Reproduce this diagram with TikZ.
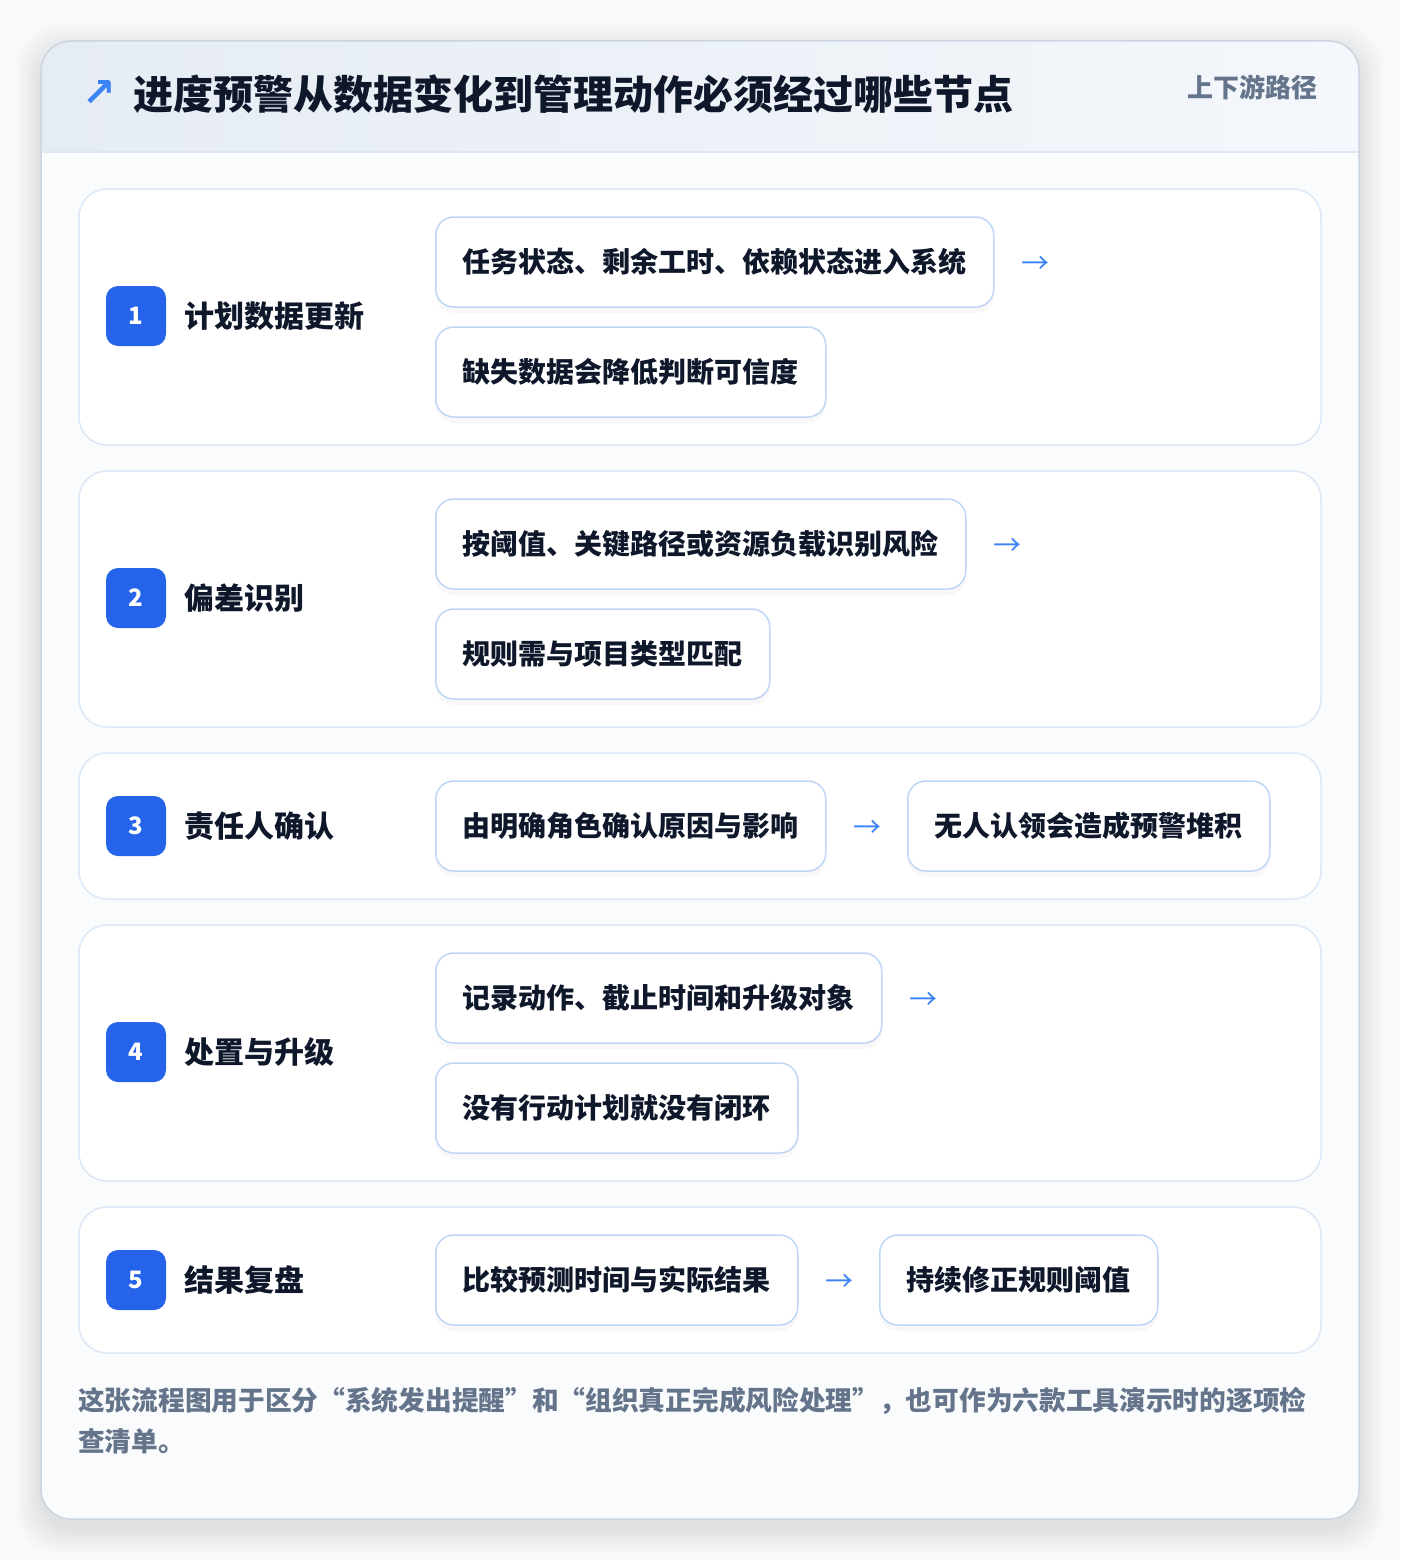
\documentclass[tikz,border=0pt]{standalone}
\usepackage{fontspec}
\setmainfont{Noto Sans CJK SC}
\newfontfamily\symfont{DejaVu Sans}
\usetikzlibrary{positioning,shadows}
\definecolor{pagebg}{HTML}{F8F9FA}
\definecolor{bodybg}{HTML}{FAFBFD}
\definecolor{outline}{HTML}{CBD5E1}
\definecolor{headA}{HTML}{E6ECF4}
\definecolor{headB}{HTML}{F4F7FB}
\definecolor{headline}{HTML}{DBE7F6}
\definecolor{cardline}{HTML}{DCE8F8}
\definecolor{itemline}{HTML}{BFD6F4}
\definecolor{badgeblue}{HTML}{2563EB}
\definecolor{arrowblue}{HTML}{3B82F6}
\definecolor{ink}{HTML}{0F172A}
\definecolor{muted}{HTML}{64748B}
\tikzset{
  card/.style={fill=white, draw=cardline, line width=1.5pt, rounded corners=28pt},
  badge/.style={fill=badgeblue, rounded corners=12pt, minimum size=60pt, inner sep=0pt,
    text=white, font=\fontsize{24}{28}\selectfont\bfseries},
  steplabel/.style={inner sep=0pt, text=ink, font=\fontsize{30}{36}\selectfont\bfseries},
  item/.style={fill=white, draw=itemline, line width=1.5pt, rounded corners=18pt,
    minimum height=90pt, inner xsep=27pt, inner ysep=0pt, text=ink,
    font=\fontsize{28}{34}\selectfont\bfseries,
    drop shadow={opacity=0.05, shadow xshift=0pt, shadow yshift=-6pt}},
  flowarrow/.style={inner sep=0pt, yshift=-3pt, text=arrowblue, font=\fontsize{28}{34}\selectfont}
}
\begin{document}
\begin{tikzpicture}[x=1pt, y=-1pt]
	\useasboundingbox (0,0) rectangle (1400,1560);
	\fill[pagebg] (0,0) rectangle (1400,1560);
	% Soft shadow of the panel
	\foreach \s in {2,4,...,24}
		\fill[black, opacity=0.006, rounded corners=40pt] (41-\s,49-\s) rectangle (1359+\s,1529+\s);
	% Panel and header
	\fill[bodybg, rounded corners=30pt] (41,41) rectangle (1359,1519);
	\begin{scope}
		\clip[rounded corners=30pt] (41,41) rectangle (1359,1519);
		\shade[left color=headA, right color=headB] (41,41) rectangle (1359,152);
		\draw[headline, line width=1.5pt] (41,152) -- (1359,152);
	\end{scope}
	\draw[outline, line width=1.5pt, rounded corners=30pt] (41,41) rectangle (1359,1519);
	\node[text=arrowblue, font=\symfont\fontsize{40}{40}\selectfont\bfseries] (icon) at (99,94) {↗};
	\node[anchor=west, inner sep=0pt, text=ink, font=\fontsize{40}{48}\selectfont\bfseries] (title) at (133,94) {进度预警从数据变化到管理动作必须经过哪些节点};
	\node[anchor=east, inner sep=0pt, text=muted, font=\fontsize{26}{30}\selectfont\bfseries] (tag) at (1318,87) {上下游路径};
	% Step cards
	\draw[card] (79,189) rectangle (1321,445);
	\draw[card] (79,471) rectangle (1321,727);
	\draw[card] (79,753) rectangle (1321,899);
	\draw[card] (79,925) rectangle (1321,1181);
	\draw[card] (79,1207) rectangle (1321,1353);
	% Step 1
	\node[badge] (n1) at (136,316) {1};
	\node[steplabel, right=18pt of n1] (l1) {计划数据更新};
	\node[item, anchor=west] (b11) at (435,262) {任务状态、剩余工时、依赖状态进入系统};
	\node[item, anchor=west] (b12) at (435,372) {缺失数据会降低判断可信度};
	\node[flowarrow, right=27pt of b11] (a1) {→};
	% Step 2
	\node[badge] (n2) at (136,598) {2};
	\node[steplabel, right=18pt of n2] (l2) {偏差识别};
	\node[item, anchor=west] (b21) at (435,544) {按阈值、关键路径或资源负载识别风险};
	\node[item, anchor=west] (b22) at (435,654) {规则需与项目类型匹配};
	\node[flowarrow, right=27pt of b21] (a2) {→};
	% Step 3
	\node[badge] (n3) at (136,826) {3};
	\node[steplabel, right=18pt of n3] (l3) {责任人确认};
	\node[item, anchor=west] (b31) at (435,826) {由明确角色确认原因与影响};
	\node[flowarrow, right=27pt of b31] (a3) {→};
	\node[item, anchor=west] (b32) at (907,826) {无人认领会造成预警堆积};
	% Step 4
	\node[badge] (n4) at (136,1052) {4};
	\node[steplabel, right=18pt of n4] (l4) {处置与升级};
	\node[item, anchor=west] (b41) at (435,998) {记录动作、截止时间和升级对象};
	\node[item, anchor=west] (b42) at (435,1108) {没有行动计划就没有闭环};
	\node[flowarrow, right=27pt of b41] (a4) {→};
	% Step 5
	\node[badge] (n5) at (136,1280) {5};
	\node[steplabel, right=18pt of n5] (l5) {结果复盘};
	\node[item, anchor=west] (b51) at (435,1280) {比较预测时间与实际结果};
	\node[flowarrow, right=27pt of b51] (a5) {→};
	\node[item, anchor=west] (b52) at (879,1280) {持续修正规则阈值};
	% Footnote
	\node[anchor=north west, align=left, inner sep=0pt, text=muted, font=\fontsize{26.7}{41}\selectfont\bfseries] (note) at (78,1387) {这张流程图用于区分“系统发出提醒”和“组织真正完成风险处理”，也可作为六款工具演示时的逐项检\\查清单。};
\end{tikzpicture}
\end{document}
